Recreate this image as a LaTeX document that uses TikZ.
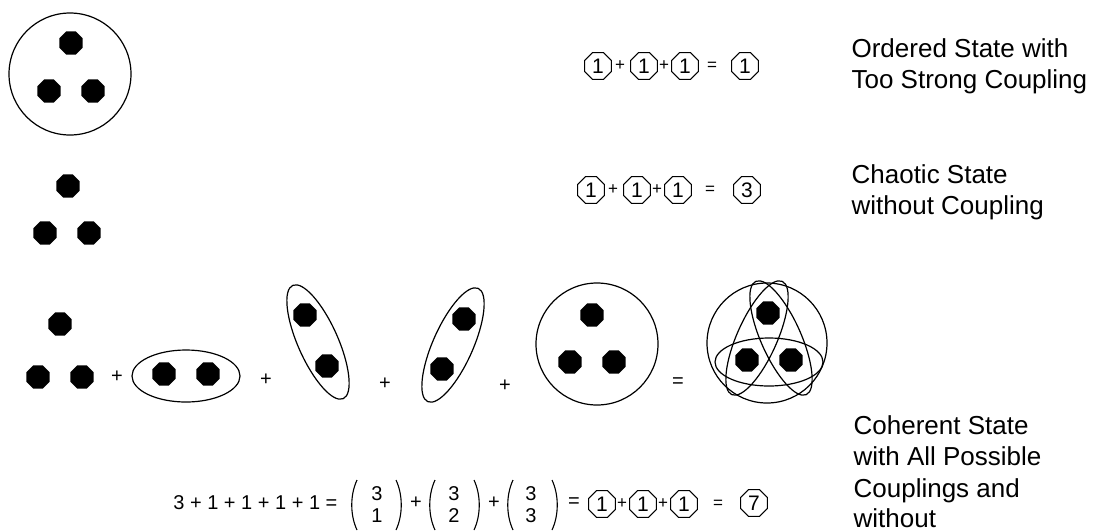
\documentclass[tikz,border=0pt]{standalone}
\usepackage{fontspec}
\setmainfont{Liberation Sans}
\usetikzlibrary{shapes.geometric}
\begin{document}
\begin{tikzpicture}[x=1pt,y=-1pt,line width=1.2pt,
  lbl/.style={anchor=base west,inner sep=0pt,font=\fontsize{26}{31}\selectfont},
  blob/.style={regular polygon,regular polygon sides=8,fill=black,minimum size=25pt,inner sep=0pt},
  cnum/.style={regular polygon,regular polygon sides=8,draw,line width=1.1pt,minimum size=29pt,inner sep=0pt,font=\fontsize{21}{21}\selectfont},
  sym/.style={inner sep=0pt,font=\fontsize{20}{20}\selectfont},
  smallsym/.style={inner sep=0pt,font=\fontsize{17}{17}\selectfont},
  paren/.style={line width=1.1pt}]
\useasboundingbox (0,0) rectangle (1094,531);

% ---------- row 1: ordered state ----------
\draw (70,74) circle [radius=61];
\node[blob] (a1) at (71,43) {};
\node[blob] (a2) at (49,91) {};
\node[blob] (a3) at (93,91) {};

\node[cnum] (e1a) at (598,66) {1};
\node[smallsym] (e1p1) at (620,66) {+};
\node[cnum] (e1b) at (644,66) {1};
\node[smallsym] (e1p2) at (664,66) {+};
\node[cnum] (e1c) at (685,66) {1};
\node[smallsym] (e1eq) at (712,66) {=};
\node[cnum] (e1d) at (745,66) {1};

\node[lbl] (t1a) at (851,57) {Ordered State with};
\node[lbl] (t1b) at (851,88) {Too Strong Coupling};

% ---------- row 2: chaotic state ----------
\node[blob] (b1) at (68,186) {};
\node[blob] (b2) at (45,233) {};
\node[blob] (b3) at (89,233) {};

\node[cnum] (e2a) at (591,190) {1};
\node[smallsym] (e2p1) at (613,190) {+};
\node[cnum] (e2b) at (637,190) {1};
\node[smallsym] (e2p2) at (657,190) {+};
\node[cnum] (e2c) at (678,190) {1};
\node[smallsym] (e2eq) at (710,190) {=};
\node[cnum] (e2d) at (747,190) {3};

\node[lbl] (t2a) at (851,183) {Chaotic State};
\node[lbl] (t2b) at (851,214) {without Coupling};

% ---------- row 3: coherent state ----------
\node[blob] (c1) at (60,324) {};
\node[blob] (c2) at (38,377) {};
\node[blob] (c3) at (82,377) {};
\node[sym] (p1) at (117,377) {+};

\draw (186,376) ellipse [x radius=54,y radius=26];
\node[blob] (d1) at (164,374) {};
\node[blob] (d2) at (208,374) {};
\node[sym] (p2) at (266,380) {+};

\draw[rotate around={-66:(318,342)}] (318,342) ellipse [x radius=62,y radius=20];
\node[blob] (f1) at (305,315) {};
\node[blob] (f2) at (327,366) {};
\node[sym] (p3) at (385,384) {+};

\draw[rotate around={66:(453,345)}] (453,345) ellipse [x radius=62,y radius=20];
\node[blob] (g1) at (464,319) {};
\node[blob] (g2) at (442,369) {};
\node[sym] (p4) at (505,386) {+};

\draw (597,344) circle [radius=61];
\node[blob] (h1) at (592,315) {};
\node[blob] (h2) at (570,362) {};
\node[blob] (h3) at (614,362) {};
\node[sym] (eqs) at (678,383) {=};

\draw (767,343) circle [radius=60];
\draw (769,362) ellipse [x radius=54,y radius=24];
\draw[rotate around={-66:(781,338)}] (781,338) ellipse [x radius=62,y radius=20];
\draw[rotate around={66:(757,338)}] (757,338) ellipse [x radius=62,y radius=20];
\node[blob] (k1) at (768,313) {};
\node[blob] (k2) at (747,360) {};
\node[blob] (k3) at (791,360) {};

% bottom equation
\node[sym,anchor=base east] (sum) at (338,509) {3 + 1 + 1 + 1 + 1 =};
\draw[paren] (357,480) .. controls (350,495) and (350,515) .. (357,530);
\draw[paren] (396,480) .. controls (403,495) and (403,515) .. (396,530);
\node[sym,anchor=base] (n1a) at (377,500) {3};
\node[sym,anchor=base] (n1b) at (377,522) {1};
\node[sym] (q1) at (416,503) {+};
\draw[paren] (435,480) .. controls (428,495) and (428,515) .. (435,530);
\draw[paren] (474,480) .. controls (481,495) and (481,515) .. (474,530);
\node[sym,anchor=base] (n2a) at (454,500) {3};
\node[sym,anchor=base] (n2b) at (454,522) {2};
\node[sym] (q2) at (494,503) {+};
\draw[paren] (513,480) .. controls (506,495) and (506,515) .. (513,530);
\draw[paren] (552,480) .. controls (559,495) and (559,515) .. (552,530);
\node[sym,anchor=base] (n3a) at (531,500) {3};
\node[sym,anchor=base] (n3b) at (531,522) {3};
\node[sym] (q3) at (574,503) {=};

\node[cnum] (e3a) at (602,504) {1};
\node[smallsym] (e3p1) at (622,504) {+};
\node[cnum] (e3b) at (643,504) {1};
\node[smallsym] (e3p2) at (663,504) {+};
\node[cnum] (e3c) at (684,504) {1};
\node[smallsym] (e3eq) at (718,504) {=};
\node[cnum] (e3d) at (754,503) {7};

\node[lbl] (t3a) at (853,434) {Coherent State};
\node[lbl] (t3b) at (853,465) {with All Possible};
\node[lbl] (t3c) at (853,497) {Couplings and};
\node[lbl] (t3d) at (853,527) {without};
\end{tikzpicture}
\end{document}
